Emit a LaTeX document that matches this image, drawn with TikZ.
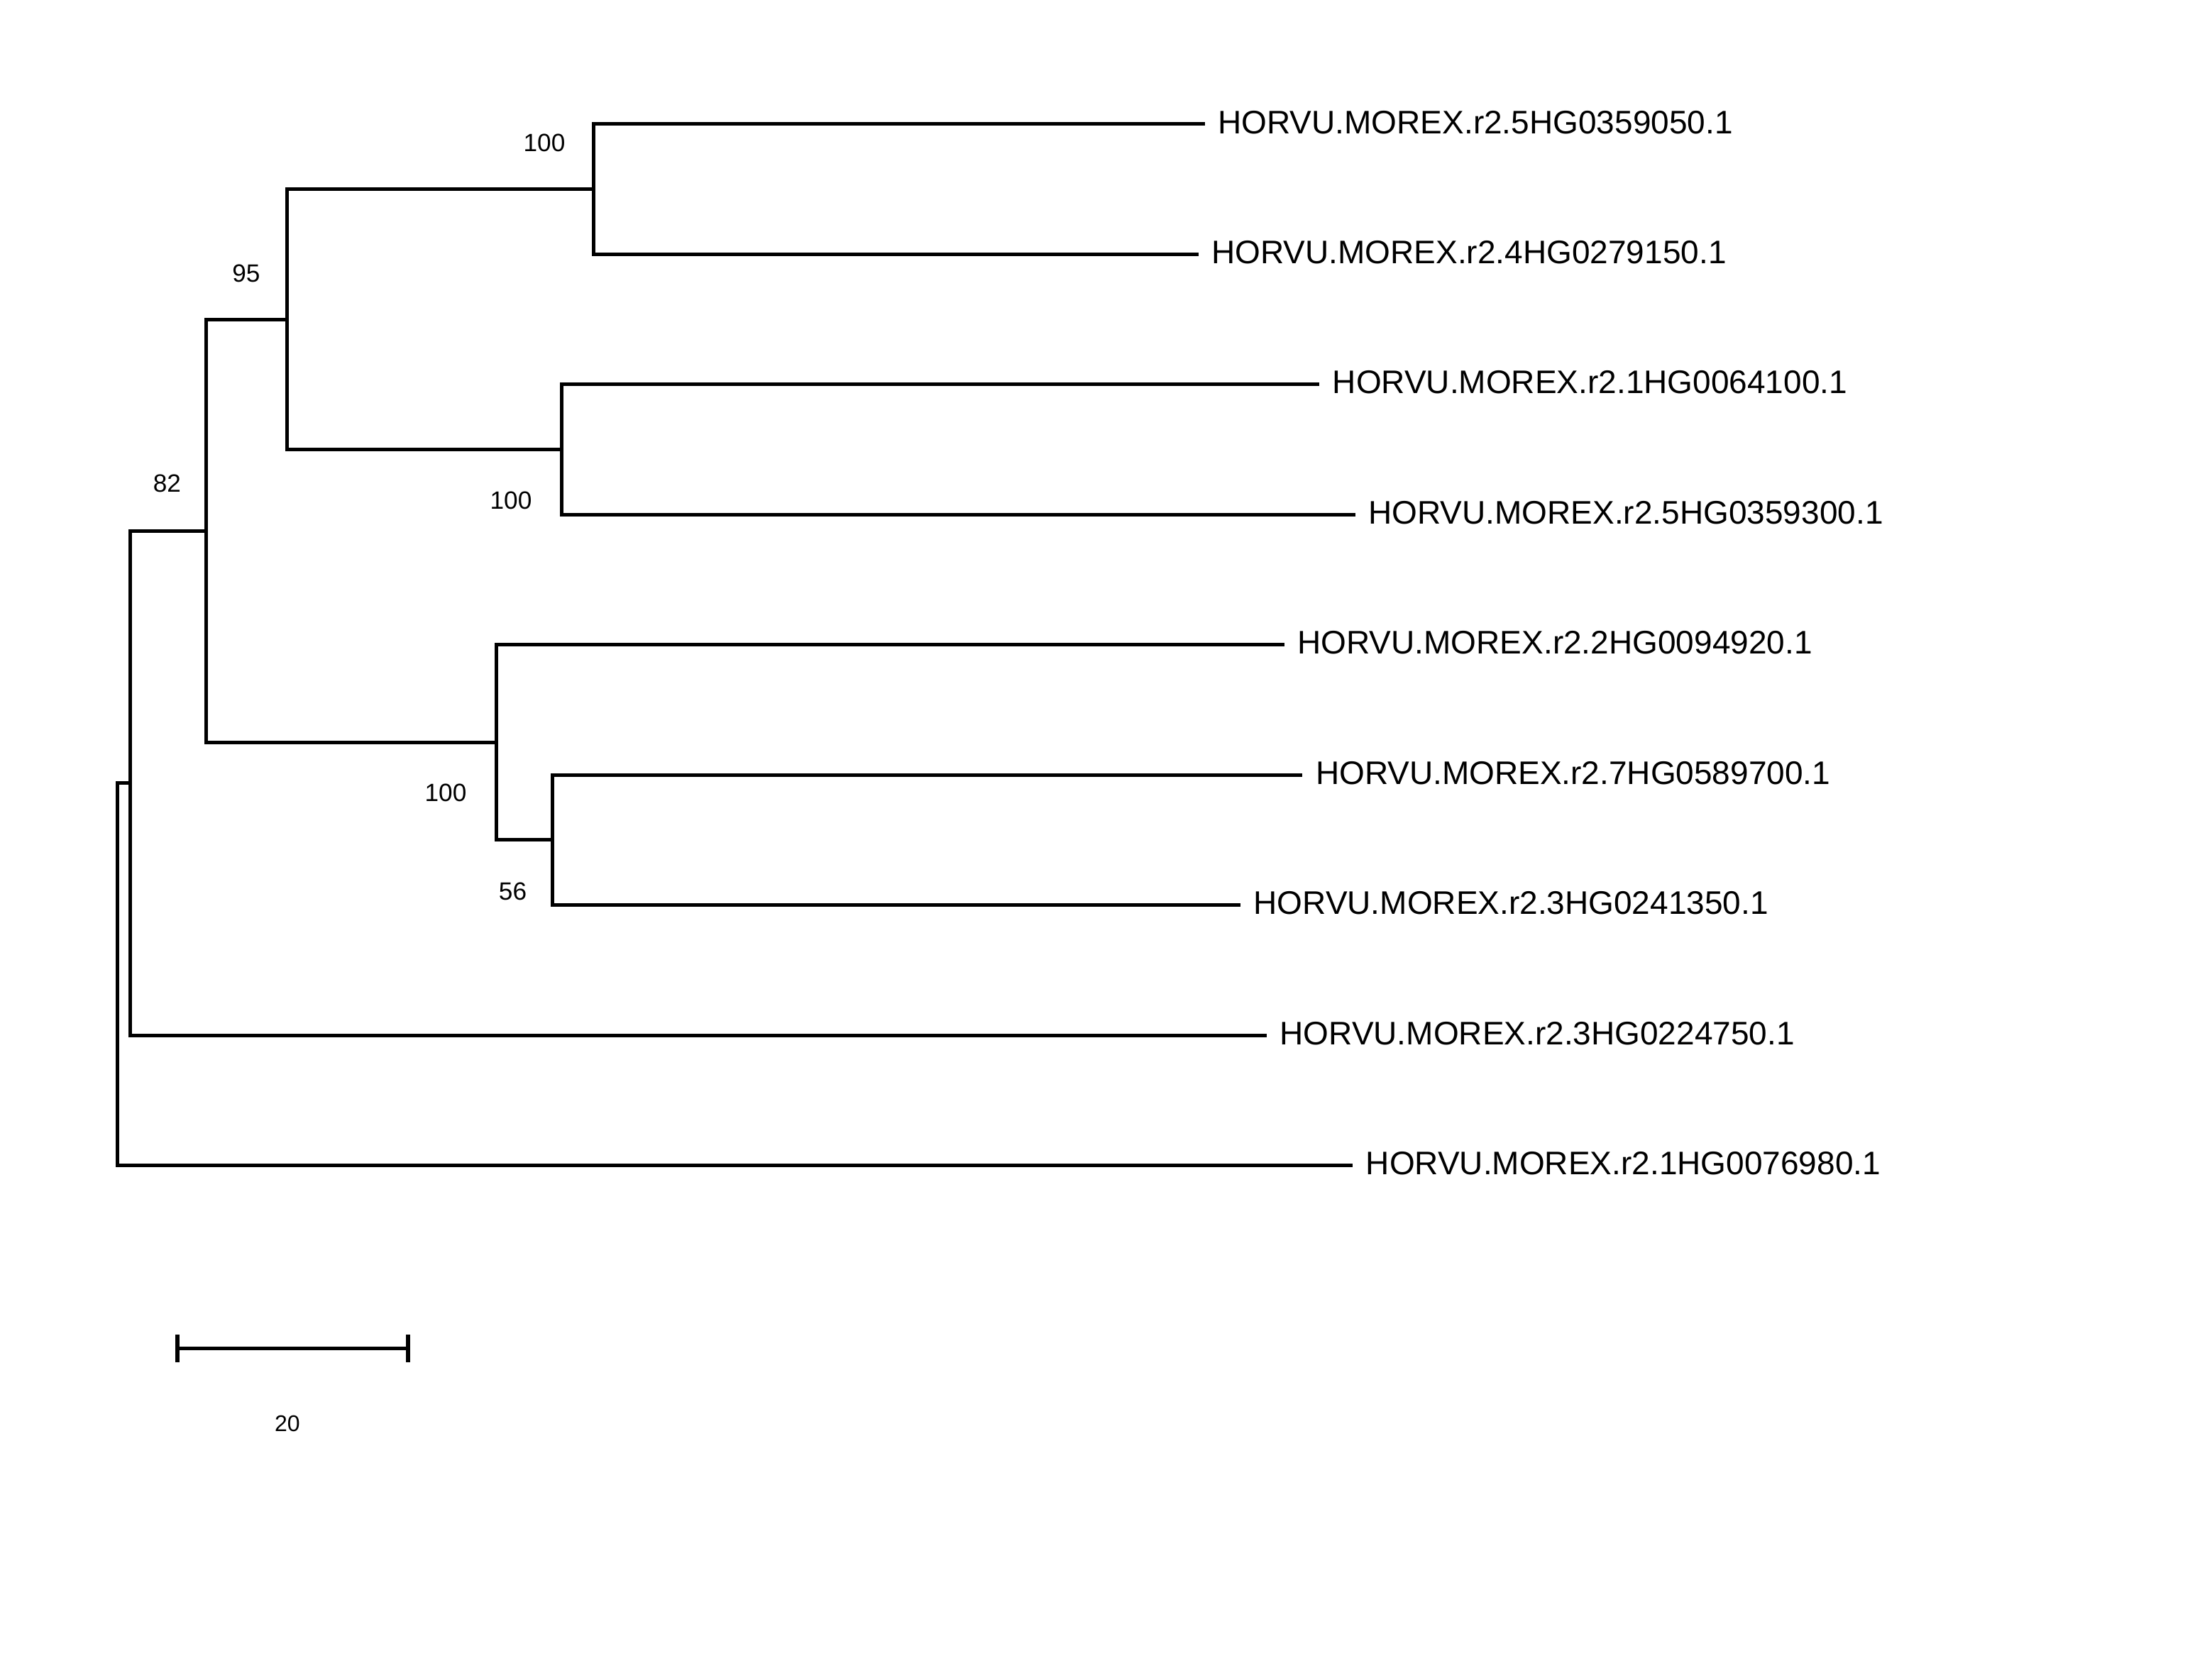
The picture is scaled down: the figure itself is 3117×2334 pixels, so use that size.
\documentclass[tikz,border=0pt]{standalone}
\usepackage{fontspec}
\setmainfont{Liberation Sans}
\begin{document}
\begin{tikzpicture}[x=0.25pt,y=-0.25pt,
  branch/.style={line width=1.25pt, line join=miter},
  leaflab/.style={anchor=base west, inner sep=0pt, font=\fontsize{11.5}{13}\selectfont},
  boot/.style={inner sep=0pt, font=\fontsize{8.8}{10}\selectfont},
  scalelab/.style={inner sep=0pt, font=\fontsize{8}{10}\selectfont}]
\fill[white] (0,0) rectangle (3117,2334);
\useasboundingbox (0,0) rectangle (3117,2334);

% leaf ends
\coordinate (e1) at (1697.7,174.8);
\coordinate (e2) at (1688.6,358.3);
\coordinate (e3) at (1859.0,541.7);
\coordinate (e4) at (1909.6,725.2);
\coordinate (e5) at (1809.7,908.6);
\coordinate (e6) at (1835.2,1092.1);
\coordinate (e7) at (1747.8,1275.5);
\coordinate (e8) at (1784.8,1459.0);
\coordinate (e9) at (1906.0,1642.4);

% internal nodes
\coordinate (n1) at (836.4,266.55);
\coordinate (n2) at (791.5,633.45);
\coordinate (n3) at (404.3,450.0);
\coordinate (n4) at (778.8,1183.8);
\coordinate (n5) at (699.7,1046.2);
\coordinate (n6) at (290.5,748.1);
\coordinate (n7) at (183.4,1103.5);
\coordinate (root) at (165.5,1373.0);

% branches
\draw[branch] (n1) |- (e1);
\draw[branch] (n1) |- (e2);
\draw[branch] (n2) |- (e3);
\draw[branch] (n2) |- (e4);
\draw[branch] (n3) |- (n1);
\draw[branch] (n3) |- (n2);
\draw[branch] (n4) |- (e6);
\draw[branch] (n4) |- (e7);
\draw[branch] (n5) |- (e5);
\draw[branch] (n5) |- (n4);
\draw[branch] (n6) |- (n3);
\draw[branch] (n6) |- (n5);
\draw[branch] (n7) |- (n6);
\draw[branch] (n7) |- (e8);
\draw[branch] (root) |- (n7);
\draw[branch] (root) |- (e9);

% leaf labels
\node[leaflab] (t1) at (1715.7,188.0) {HORVU.MOREX.r2.5HG0359050.1};
\node[leaflab] (t2) at (1706.6,371.5) {HORVU.MOREX.r2.4HG0279150.1};
\node[leaflab] (t3) at (1877.0,554.9) {HORVU.MOREX.r2.1HG0064100.1};
\node[leaflab] (t4) at (1927.6,738.4) {HORVU.MOREX.r2.5HG0359300.1};
\node[leaflab] (t5) at (1827.7,921.8) {HORVU.MOREX.r2.2HG0094920.1};
\node[leaflab] (t6) at (1853.2,1105.3) {HORVU.MOREX.r2.7HG0589700.1};
\node[leaflab] (t7) at (1765.8,1288.7) {HORVU.MOREX.r2.3HG0241350.1};
\node[leaflab] (t8) at (1802.8,1472.2) {HORVU.MOREX.r2.3HG0224750.1};
\node[leaflab] (t9) at (1924.0,1655.6) {HORVU.MOREX.r2.1HG0076980.1};

% bootstrap values
\node[boot] (b1) at (767,201.5) {100};
\node[boot] (b2) at (720,705) {100};
\node[boot] (b3) at (347,385) {95};
\node[boot] (b4) at (235.5,681) {82};
\node[boot] (b5) at (628,1117.5) {100};
\node[boot] (b6) at (722.5,1256) {56};

% scale bar
\coordinate (s1) at (250,1900.7);
\coordinate (s2) at (575,1900.7);
\draw[line width=1.2pt] (s1) -- (s2);
\draw[line width=1.5pt] ([yshift=4.9pt]s1) -- ([yshift=-4.9pt]s1);
\draw[line width=1.5pt] ([yshift=4.9pt]s2) -- ([yshift=-4.9pt]s2);
\node[scalelab] (sl) at (405,2006.7) {20};
\end{tikzpicture}
\end{document}
